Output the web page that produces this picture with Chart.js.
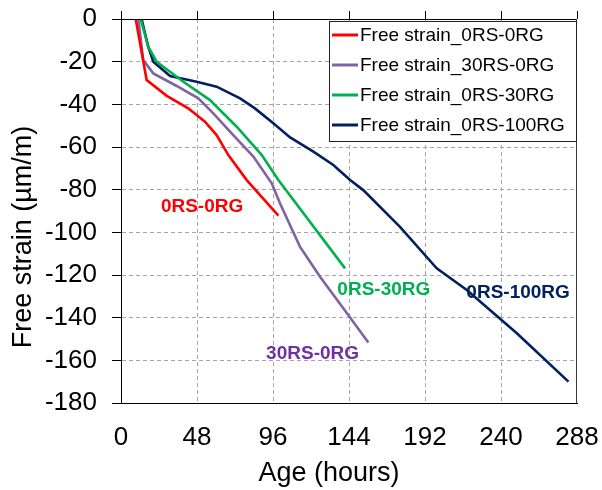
<!DOCTYPE html>
<html>
<head>
<meta charset="utf-8">
<script src="https://cdn.jsdelivr.net/npm/chart.js@4.4.1/dist/chart.umd.min.js"></script>
<style>
  html, body { margin:0; padding:0; background:#fff; }
  #wrap { width:602px; height:490px; }
</style>
</head>
<body>
<div id="wrap"><canvas id="chartjs" width="602" height="490"></canvas></div>
<script>
// values: age (hours) / free strain (µm/m)
var hours_0RS_0RG   = [9.3, 16.2, 28.9, 42.5, 47.8, 53, 60.4, 67.8, 79.4, 99.4];
var strain_0RS_0RG  = [0, -28.6, -36, -41.9, -45, -48.1, -54.4, -63.8, -75.5, -92.2];

var hours_30RS_0RG  = [11, 14, 20.4, 35.2, 48.8, 58.3, 70.9, 83.6, 95.2, 100.4, 113, 125.7, 140.4, 156.2];
var strain_30RS_0RG = [0, -19.2, -25.5, -31.4, -37.2, -44.2, -54.4, -64.5, -77, -86.4, -106.7, -120.8, -135.6, -151.6];

var hours_0RS_30RG  = [12.4, 17.2, 22.5, 39.4, 56.2, 73.1, 88.9, 99.4, 141.5];
var strain_0RS_30RG = [0, -13, -20, -29.4, -38, -50.5, -63.8, -75.5, -116.9];

var hours_0RS_100RG  = [13, 17.2, 20.4, 31, 47.8, 60.4, 75.2, 84.6, 96.2, 106.8, 121.5, 134.1, 144.7, 153, 176.2, 199.4, 218.4, 250, 282.6];
var strain_0RS_100RG = [0, -13, -20, -26.7, -29.4, -31.7, -37.2, -41.9, -48.9, -55.5, -62.2, -68.4, -75.5, -80.2, -97.4, -116.9, -127, -147.3, -170];

var seriesNames = ["Free strain_0RS-0RG", "Free strain_30RS-0RG", "Free strain_0RS-30RG", "Free strain_0RS-100RG"];

// text labels in the plot, anchored in data units
var noteText   = ["0RS-0RG", "30RS-0RG", "0RS-30RG", "0RS-100RG"];
var noteHours  = [51.2, 121, 166, 250.8];
var noteStrain = [-88.1, -157, -127, -128.5];

var xTickStep = 48, xMax = 288;
var yTickStep = 20, yMin = -180;

var colors     = ["#ff0000", "#8064a2", "#00b050", "#002060"];
var noteColors = ["#ff0000", "#7030a0", "#00b050", "#002060"];
var FONT = "'Liberation Sans', Arial, sans-serif";

function pts(xs, ys){
    var out = [];
    for (var i = 0; i < xs.length; i++) out.push({x: xs[i], y: ys[i]});
    return out;
}

var allHours  = [hours_0RS_0RG, hours_30RS_0RG, hours_0RS_30RG, hours_0RS_100RG];
var allStrain = [strain_0RS_0RG, strain_30RS_0RG, strain_0RS_30RG, strain_0RS_100RG];
var datasets = [];
for (var k = 0; k < 4; k++){
    datasets.push({
        label: seriesNames[k],
        data: pts(allHours[k], allStrain[k]),
        borderColor: colors[k],
        backgroundColor: colors[k],
        borderWidth: 2.6,
        pointRadius: 0,
        tension: 0,
        fill: false
    });
}

var decor = {
    id: "decor",
    afterDatasetsDraw: function(chart){
        var ctx = chart.ctx, a = chart.chartArea;
        var xs = chart.scales.x, ys = chart.scales.y;
        ctx.save();

        // top axis line (value 0) with outward tick marks, right frame line
        ctx.strokeStyle = "#000"; ctx.lineWidth = 1;
        ctx.beginPath();
        ctx.moveTo(a.left, a.top + 0.5); ctx.lineTo(a.right, a.top + 0.5);
        xs.ticks.forEach(function(t){
            var px = Math.round(xs.getPixelForValue(t.value)) + 0.5;
            ctx.moveTo(px, a.top - 8); ctx.lineTo(px, a.top);
        });
        ctx.stroke();
        ctx.strokeStyle = "#3a3a3a";
        ctx.beginPath();
        ctx.moveTo(a.right - 0.5, a.top); ctx.lineTo(a.right - 0.5, a.bottom);
        ctx.stroke();

        // labels next to the curves
        ctx.font = "bold 19px " + FONT;
        ctx.textAlign = "center"; ctx.textBaseline = "middle";
        for (var i = 0; i < noteText.length; i++){
            ctx.fillStyle = noteColors[i];
            ctx.fillText(noteText[i], xs.getPixelForValue(noteHours[i]), ys.getPixelForValue(noteStrain[i]));
        }

        // legend box
        var bx = a.right - 248, by = a.top + 2, bw = 248, bh = 121;
        ctx.fillStyle = "#fff";
        ctx.fillRect(bx, by, bw, bh);
        ctx.strokeStyle = "#222"; ctx.lineWidth = 1;
        ctx.strokeRect(bx + 0.5, by + 0.5, bw - 1, bh - 1);
        ctx.font = "19px " + FONT;
        ctx.textAlign = "left";
        chart.data.datasets.forEach(function(ds, i){
            var cy = by + 14 + i * 30;
            ctx.strokeStyle = ds.borderColor; ctx.lineWidth = 3;
            ctx.beginPath(); ctx.moveTo(bx + 3, cy); ctx.lineTo(bx + 29, cy); ctx.stroke();
            ctx.fillStyle = "#000";
            ctx.fillText(ds.label, bx + 31, cy + 1);
        });

        // axis titles
        ctx.fillStyle = "#000";
        ctx.font = "27px " + FONT;
        ctx.textAlign = "center"; ctx.textBaseline = "middle";
        ctx.fillText("Age (hours)", 329, 474);
        ctx.translate(24, 237);
        ctx.rotate(-Math.PI / 2);
        ctx.fillText("Free strain (\u00b5m/m)", 0, 0);
        ctx.restore();
    }
};

var edgeClear = function(ctx){
    var v = ctx.tick ? ctx.tick.value : null;
    return (v === 0 || v === yMin || v === xMax) ? "rgba(0,0,0,0)" : "#a6a6a6";
};

var graph = new Chart(document.getElementById("chartjs"), {
    type: "line",
    data: { datasets: datasets },
    plugins: [decor],
    options: {
        responsive: false,
        devicePixelRatio: 1,
        animation: false,
        layout: { padding: { top: 19, right: 25, left: 0, bottom: 0 } },
        plugins: { legend: { display: false }, tooltip: { enabled: false } },
        scales: {
            x: {
                type: "linear", min: 0, max: xMax,
                afterFit: function(s){ s.height = 87; s.paddingLeft = 0; s.paddingRight = 0; },
                ticks: { stepSize: xTickStep, color: "#000", padding: 19, maxRotation: 0,
                         font: { family: FONT, size: 26 } },
                grid: { color: edgeClear, drawTicks: false, lineWidth: 1 },
                border: { color: "#000", width: 1, dash: [4, 3] }
            },
            y: {
                type: "linear", min: yMin, max: 0,
                afterFit: function(s){ s.width = 121; s.paddingTop = 0; s.paddingBottom = 0; },
                ticks: { stepSize: yTickStep, color: "#000", padding: 15,
                         font: { family: FONT, size: 26 } },
                grid: { color: edgeClear, drawTicks: true, tickLength: 9, tickColor: "#000",
                        tickBorderDash: [], tickWidth: 1, lineWidth: 1 },
                border: { color: "#000", width: 1, dash: [4, 3] }
            }
        }
    }
});
</script>
</body>
</html>
